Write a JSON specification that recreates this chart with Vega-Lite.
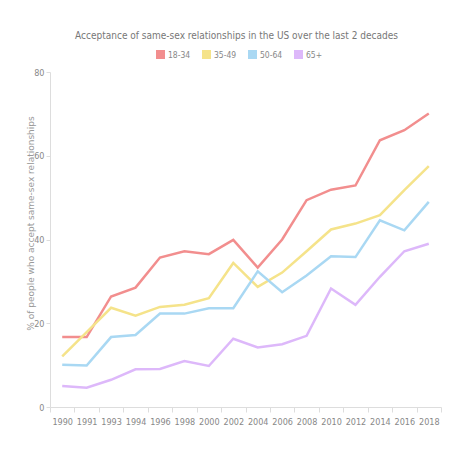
{
  "$schema": "https://vega.github.io/schema/vega-lite/v6.json",
  "autosize": {"type": "none"},
  "width": 391,
  "height": 335,
  "padding": {"left": 50, "top": 72, "right": 17, "bottom": 48},
  "background": "#ffffff",
  "title": {
    "text": "Acceptance of same-sex relationships in the US over the last 2 decades",
    "font": "DejaVu Sans Condensed",
    "fontSize": 10,
    "fontWeight": "normal",
    "color": "#777777",
    "anchor": "middle",
    "frame": "group",
    "dx": -9,
    "offset": 9
  },
  "data": {
    "values": [
      {"year": "1990", "group": "18-34", "pct": 16.7},
      {"year": "1991", "group": "18-34", "pct": 16.7},
      {"year": "1993", "group": "18-34", "pct": 26.4},
      {"year": "1994", "group": "18-34", "pct": 28.5},
      {"year": "1996", "group": "18-34", "pct": 35.7},
      {"year": "1998", "group": "18-34", "pct": 37.2},
      {"year": "2000", "group": "18-34", "pct": 36.5},
      {"year": "2002", "group": "18-34", "pct": 39.9},
      {"year": "2004", "group": "18-34", "pct": 33.3},
      {"year": "2006", "group": "18-34", "pct": 40.0},
      {"year": "2008", "group": "18-34", "pct": 49.4},
      {"year": "2010", "group": "18-34", "pct": 51.9},
      {"year": "2012", "group": "18-34", "pct": 52.9},
      {"year": "2014", "group": "18-34", "pct": 63.7},
      {"year": "2016", "group": "18-34", "pct": 66.1},
      {"year": "2018", "group": "18-34", "pct": 70.1},
      {"year": "1990", "group": "35-49", "pct": 12.1},
      {"year": "1991", "group": "35-49", "pct": 17.9},
      {"year": "1993", "group": "35-49", "pct": 23.7},
      {"year": "1994", "group": "35-49", "pct": 21.8},
      {"year": "1996", "group": "35-49", "pct": 23.9},
      {"year": "1998", "group": "35-49", "pct": 24.4},
      {"year": "2000", "group": "35-49", "pct": 26.0},
      {"year": "2002", "group": "35-49", "pct": 34.4},
      {"year": "2004", "group": "35-49", "pct": 28.7},
      {"year": "2006", "group": "35-49", "pct": 32.1},
      {"year": "2008", "group": "35-49", "pct": 37.2},
      {"year": "2010", "group": "35-49", "pct": 42.4},
      {"year": "2012", "group": "35-49", "pct": 43.8},
      {"year": "2014", "group": "35-49", "pct": 45.8},
      {"year": "2016", "group": "35-49", "pct": 51.8},
      {"year": "2018", "group": "35-49", "pct": 57.5},
      {"year": "1990", "group": "50-64", "pct": 10.1},
      {"year": "1991", "group": "50-64", "pct": 9.9},
      {"year": "1993", "group": "50-64", "pct": 16.7},
      {"year": "1994", "group": "50-64", "pct": 17.2},
      {"year": "1996", "group": "50-64", "pct": 22.3},
      {"year": "1998", "group": "50-64", "pct": 22.3},
      {"year": "2000", "group": "50-64", "pct": 23.6},
      {"year": "2002", "group": "50-64", "pct": 23.6},
      {"year": "2004", "group": "50-64", "pct": 32.4},
      {"year": "2006", "group": "50-64", "pct": 27.4},
      {"year": "2008", "group": "50-64", "pct": 31.4},
      {"year": "2010", "group": "50-64", "pct": 36.0},
      {"year": "2012", "group": "50-64", "pct": 35.8},
      {"year": "2014", "group": "50-64", "pct": 44.6},
      {"year": "2016", "group": "50-64", "pct": 42.2},
      {"year": "2018", "group": "50-64", "pct": 49.0},
      {"year": "1990", "group": "65+", "pct": 5.0},
      {"year": "1991", "group": "65+", "pct": 4.6},
      {"year": "1993", "group": "65+", "pct": 6.5},
      {"year": "1994", "group": "65+", "pct": 9.0},
      {"year": "1996", "group": "65+", "pct": 9.1},
      {"year": "1998", "group": "65+", "pct": 11.0},
      {"year": "2000", "group": "65+", "pct": 9.8},
      {"year": "2002", "group": "65+", "pct": 16.3},
      {"year": "2004", "group": "65+", "pct": 14.2},
      {"year": "2006", "group": "65+", "pct": 15.0},
      {"year": "2008", "group": "65+", "pct": 17.0},
      {"year": "2010", "group": "65+", "pct": 28.3},
      {"year": "2012", "group": "65+", "pct": 24.4},
      {"year": "2014", "group": "65+", "pct": 31.1},
      {"year": "2016", "group": "65+", "pct": 37.2},
      {"year": "2018", "group": "65+", "pct": 39.0}
    ]
  },
  "mark": {"type": "line", "strokeWidth": 2.5, "strokeJoin": "miter"},
  "encoding": {
    "x": {
      "field": "year",
      "type": "ordinal",
      "bandPosition": 0.5,
      "scale": {"type": "band", "paddingInner": 0, "paddingOuter": 0},
      "axis": {
        "title": null,
        "labelAngle": 0,
        "tickBand": "extent",
        "tickSize": 5,
        "labelPadding": 5,
        "labelFont": "DejaVu Sans Condensed",
        "labelFontSize": 9,
        "labelColor": "#888888",
        "domainColor": "#dddddd",
        "tickColor": "#dddddd",
        "grid": false
      }
    },
    "y": {
      "field": "pct",
      "type": "quantitative",
      "scale": {"domain": [0, 80], "nice": false},
      "axis": {
        "title": "% of people who accept same-sex relationships",
        "titleFont": "DejaVu Sans",
        "titleFontSize": 9,
        "titleFontWeight": "normal",
        "titleColor": "#999999",
        "titleAngle": -90,
        "titleBaseline": "middle",
        "titleAnchor": "middle",
        "titleX": -20,
        "titleY": 151,
        "values": [0, 20, 40, 60, 80],
        "tickSize": 4,
        "labelPadding": 2,
        "labelFont": "DejaVu Sans Condensed",
        "labelFontSize": 9,
        "labelColor": "#888888",
        "domainColor": "#dddddd",
        "tickColor": "#dddddd",
        "grid": false
      }
    },
    "color": {
      "field": "group",
      "type": "nominal",
      "scale": {
        "domain": ["18-34", "35-49", "50-64", "65+"],
        "range": ["#f28e8e", "#f5e38a", "#a9d8f3", "#ddb8fa"]
      },
      "legend": {
        "title": null,
        "orient": "none",
        "direction": "horizontal",
        "legendX": 106,
        "legendY": -22,
        "symbolType": "square",
        "symbolSize": 16,
        "symbolStrokeWidth": 5,
        "symbolOpacity": 1,
        "labelFont": "DejaVu Sans Condensed",
        "labelFontSize": 8.5,
        "labelColor": "#888888",
        "columnPadding": 3,
        "labelOffset": 3,
        "gridAlign": "none"
      }
    }
  },
  "config": {
    "view": {"stroke": null}
  }
}
